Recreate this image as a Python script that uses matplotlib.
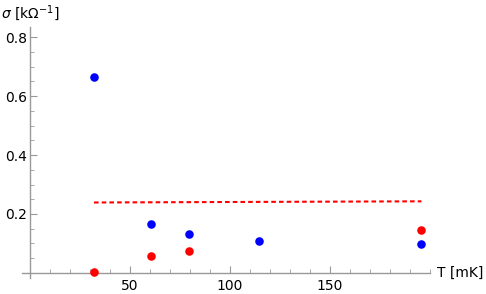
import matplotlib
matplotlib.use("Agg")
import matplotlib.pyplot as plt
from matplotlib.ticker import MultipleLocator

# data
T_blue = [32, 60.5, 79.3, 114.5, 195.7]
sigma_blue = [0.664, 0.165, 0.131, 0.108, 0.098]
T_red = [32, 60.3, 79.3, 195.7]
sigma_red = [0.004, 0.058, 0.076, 0.145]
T_line = [32, 195.7]
sigma_line = [0.239, 0.243]
x_ticks = [50, 100, 150]
y_ticks = [0.2, 0.4, 0.6, 0.8]

fig = plt.figure(figsize=(4.86, 2.94), dpi=100)
ax = fig.add_axes([22/486, 16/294, 408/486, 251/294])

ax.plot(T_line, sigma_line, color=(1, 0, 0), lw=1.5, ls=(0, (2.2, 1.5)))
ax.scatter(T_blue, sigma_blue, s=38, color=(0, 0, 1), zorder=3, linewidths=0)
ax.scatter(T_red, sigma_red, s=38, color=(1, 0, 0), zorder=3, linewidths=0)

ax.set_xlim(-4, 200)
ax.set_ylim(-0.017, 0.834)

for s in ["top", "right"]:
    ax.spines[s].set_visible(False)
ax.spines["left"].set_position(("data", 0))
ax.spines["bottom"].set_position(("data", 0))
for s in ["left", "bottom"]:
    ax.spines[s].set_color("#999999")
    ax.spines[s].set_linewidth(1.0)

ax.set_xticks(x_ticks)
ax.set_yticks(y_ticks)
ax.xaxis.set_minor_locator(MultipleLocator(10))
ax.yaxis.set_minor_locator(MultipleLocator(0.05))
ax.tick_params(which="major", direction="in", length=5, color="#999999", width=0.8,
               labelsize=10)
ax.tick_params(axis="y", which="major", pad=2)
ax.tick_params(axis="x", which="major", pad=4)
ax.tick_params(which="minor", direction="in", length=3, color="#999999", width=0.6)
ax.set_yticklabels(["0.2", "0.4", "0.6", "0.8"])

fig.text(1/486, 1 - 13/294, r"$\sigma$ [k$\Omega^{-1}$]", fontsize=10, va="center", ha="left")
fig.text(437/486, 1 - 273/294, "T [mK]", fontsize=10, va="center", ha="left")

fig.savefig("out.png", dpi=100)
